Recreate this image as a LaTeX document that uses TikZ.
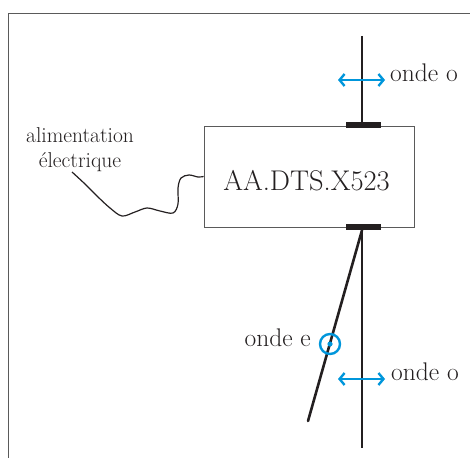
\documentclass[tikz,border=0pt]{standalone}
\usepackage{fontspec}
\setmainfont{Latin Modern Roman}
\usetikzlibrary{arrows.meta}
\definecolor{bl}{RGB}{0,150,219}
\definecolor{ink}{RGB}{35,31,32}
\definecolor{frm}{RGB}{90,90,90}
\begin{document}
\begin{tikzpicture}[x=1pt,y=-1pt,
  fiber/.style={draw=ink,line width=2.6pt},
  pol/.style={draw=bl,line width=2.4pt,{Straight Barb[length=5pt,width=12pt]}-{Straight Barb[length=5pt,width=12pt]}},
  lbl/.style={font=\fontsize{25.5}{30}\selectfont, text=ink, inner sep=0pt},
  bar/.style={fill=ink, minimum width=35pt, minimum height=6pt, inner sep=0pt},
  wire/.style={draw=ink, line width=1.2pt}]
\useasboundingbox (0,0) rectangle (470,457);
\begin{scope}
  \clip (0,0) rectangle (470,457);
  \draw[frm, line width=1pt] (8,470) -- (8,14) -- (480,14);
\end{scope}
% box
\node[draw=frm, line width=0.8pt, minimum width=210pt, minimum height=101pt, inner sep=0pt] (box) at (309,176.5) {};
\node[inner sep=0pt, anchor=base, font=\fontsize{28.5}{33}\selectfont, text=ink] (name) at (306.5,190) {AA.DTS.X523};
% bars
\node[bar] (tb) at (363.5,125.5) {};
\node[bar] (bb) at (363.5,227) {};
% fibres
\coordinate (ttop) at (362,36);
\coordinate (vb) at (362,448);
\coordinate (sl) at (308,421);
\draw[fiber] (ttop) -- (ttop |- tb.north);
\draw[fiber] (ttop |- bb.south) -- (vb);
\draw[fiber, line cap=round] (ttop |- bb.south) -- (sl);
% polarisation arrows
\coordinate (a1l) at (338,80);
\coordinate (a1r) at (385,80);
\draw[pol] (a1l) -- (a1r);
\node[lbl, anchor=base west] (o1) at (390,82) {onde o};
\coordinate (a2l) at (338,379);
\coordinate (a2r) at (385,379);
\draw[pol] (a2l) -- (a2r);
\node[lbl, anchor=base west] (o2) at (391,380) {onde o};
% e-wave
\node[draw=bl, line width=2.4pt, circle, minimum size=20pt, inner sep=0pt] (ce) at (330,344) {};
\fill[bl] (ce.center) circle (2.6pt);
\node[lbl, anchor=base east] (oe) at (311,346) {onde e};
% power supply
\node[inner sep=0pt, anchor=north, align=center, text=ink, font=\fontsize{21.5}{25}\selectfont] (alim) at (80,127) {alimentation\\électrique};
\coordinate (w0) at (72,172);
\draw[wire] plot[smooth, tension=0.55] coordinates {(w0) (85,184) (97,196) (110,208) (122,216) (135,212) (147,208) (160,211) (173,213) (178,204) (178,188) (181,178) (189,175) (198,177) (box.west)};
\end{tikzpicture}
\end{document}
